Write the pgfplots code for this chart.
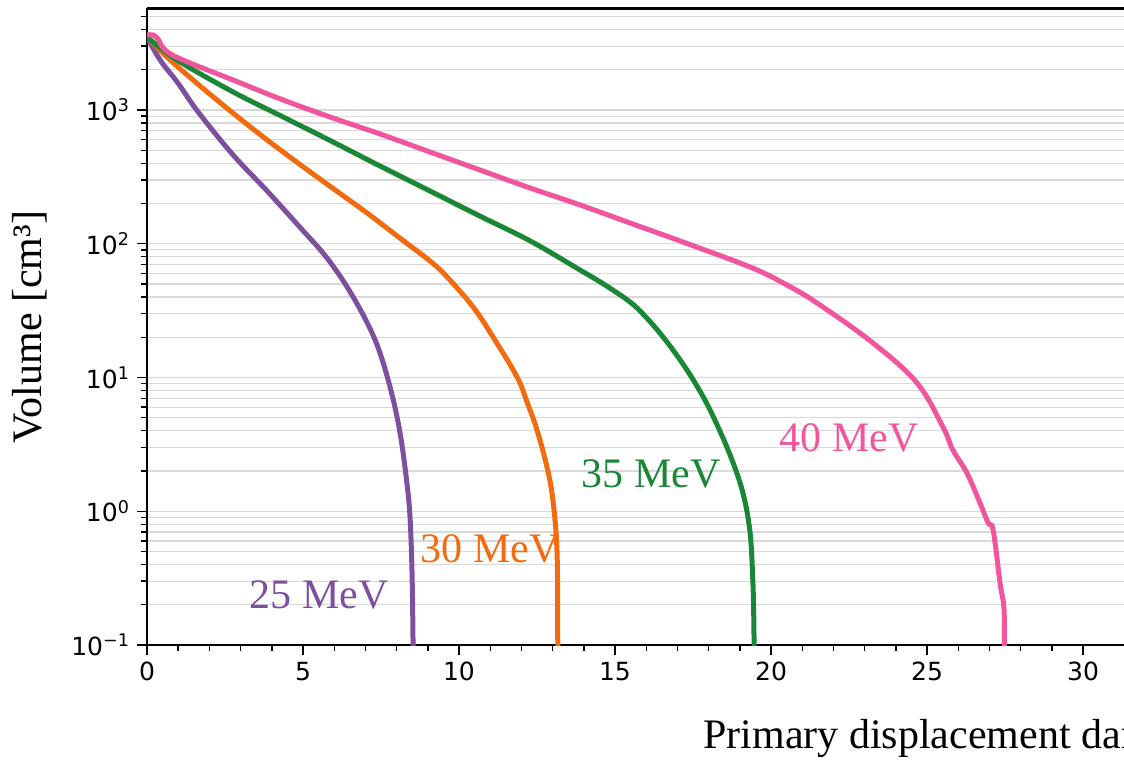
\documentclass[border=0pt]{standalone}
\usepackage{fontspec}
\setmainfont{Liberation Serif}
\newfontfamily\djv{DejaVu Sans}
\usepackage{pgfplots}
\pgfplotsset{compat=1.18}
\definecolor{c25}{HTML}{7C509F}
\definecolor{c30}{HTML}{F26B0F}
\definecolor{c35}{HTML}{1A8737}
\definecolor{c40}{HTML}{F1559D}

\begin{document}
\begin{tikzpicture}
\useasboundingbox (-73.5pt,-57.5pt) rectangle (488.5pt,322.5pt);
\clip (-73.5pt,-57.5pt) rectangle (488.5pt,322.5pt);
\begin{axis}[
    at={(0,0)}, anchor=south west,
    scale only axis,
    width=514.8pt, height=318pt,
    xmin=0, xmax=33,
    ymode=log, log basis y=10,
    ymin=0.1, ymax=5690,
    xtick={0,5,...,30},
    minor x tick num=4,
    ytick={0.1,1,10,100,1000},
    yticklabels={10\textsuperscript{−1},10\textsuperscript{0},10\textsuperscript{1},10\textsuperscript{2},10\textsuperscript{3}},
    minor ytick={0.2,0.3,0.4,0.5,0.6,0.7,0.8,0.9,2,3,4,5,6,7,8,9,20,30,40,50,60,70,80,90,200,300,400,500,600,700,800,900,2000,3000,4000,5000},
    tick align=outside,
    xtick pos=bottom, ytick pos=left,
    major tick length=5pt, minor tick length=3pt,
    every tick/.style={black, line width=0.7pt},
    ymajorgrids, yminorgrids,
    major grid style={gray!30, line width=0.6pt},
    minor grid style={gray!30, line width=0.6pt},
    axis line style={black, line width=1pt},
    tick label style={font=\djv\fontsize{12.5}{14}\selectfont},
    /pgf/number format/assume math mode=true,
    curve/.style={#1, line width=2.5pt, line join=round, smooth, tension=0.6},
]
% 25 MeV
\addplot[curve=c25] coordinates {
(0,3515) (0.42,2366) (0.99,1592) (1.64,966) (2.76,461) (3.85,248) (4.90,133) (5.77,78.2)
(6.57,41.4) (7.31,19.1) (7.79,8.49) (8.11,3.85) (8.33,1.63)
(8.43,0.905) (8.49,0.383) (8.52,0.15) (8.53,0.08)};
% 30 MeV
\addplot[curve=c30] coordinates {
(0,3515) (0.74,2366) (2.24,1188) (3.85,597) (5.45,316) (7.05,170) (8.11,110)
(9.07,74.3) (9.62,56.4) (10.45,33.7) (11.09,20.1) (11.86,10.1) (12.18,6.56) (12.50,4.05)
(12.82,2.14) (13.01,1.21) (13.14,0.513) (13.16,0.15) (13.17,0.08)};
% 35 MeV
\addplot[curve=c35] coordinates {
(0,3515) (0.96,2366) (2.76,1364) (4.36,887) (5.96,577) (7.47,381) (9.07,248)
(10.67,161) (12.28,105) (13.88,63.6) (14.68,49.2) (15.48,36.7) (15.96,28.8) (16.54,20.1)
(17.18,12.6) (17.72,7.93) (18.14,5.15) (18.69,2.63) (19.10,1.37)
(19.33,0.687) (19.42,0.291) (19.45,0.15) (19.46,0.08)};
% 40 MeV
\addplot[curve=c40] coordinates {
(0,3640) (0.19,3640) (0.35,3395) (0.58,2811) (1.15,2366) (2.76,1675) (4.36,1188)
(5.96,871) (7.47,662) (9.07,485) (10.67,356) (12.28,261) (13.88,195)
(15.48,143) (17.08,105) (19.33,67.0) (20.45,50.0) (21.47,36.1) (23.27,18.1) (24.68,9.10)
(25.51,4.27) (25.83,2.87) (26.28,1.93) (26.70,1.15) (26.96,0.816)
(27.12,0.724) (27.34,0.291) (27.47,0.183) (27.47,0.08)};
\end{axis}
\draw[black, line width=1.5pt] (0pt,318pt) -- (514.8pt,318pt);
\node[anchor=base, text=c25, font=\fontsize{21}{24}\selectfont] at (86pt,18pt) {25 MeV};
\node[anchor=base, text=c30, font=\fontsize{21}{24}\selectfont] at (171.5pt,41.5pt) {30 MeV};
\node[anchor=base, text=c35, font=\fontsize{21}{24}\selectfont] at (252pt,78.5pt) {35 MeV};
\node[anchor=base, text=c40, font=\fontsize{21}{24}\selectfont] at (351pt,96.5pt) {40 MeV};
\node[anchor=base west, inner sep=0pt, font=\fontsize{21}{24}\selectfont] at (278pt,-51.5pt) {Primary displacement damage};
\node[rotate=90, font=\fontsize{21}{24}\selectfont] at (-58.5pt,159pt) {Volume [cm³]};
\end{tikzpicture}
\end{document}
